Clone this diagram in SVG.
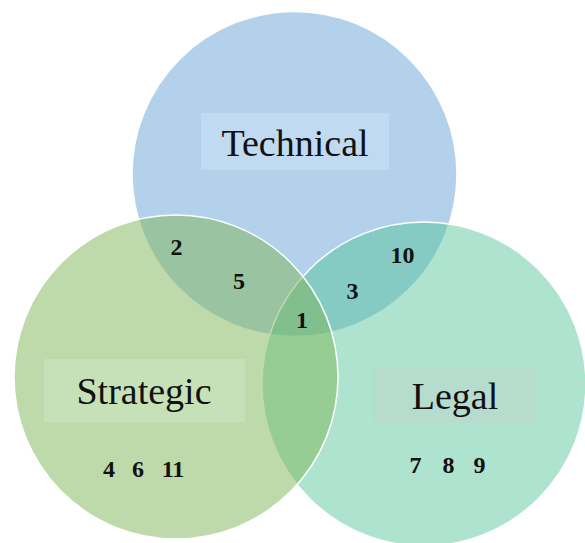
<svg xmlns="http://www.w3.org/2000/svg" width="585" height="543" viewBox="0 0 585 543">
<style>
.c{stroke:#ffffff;stroke-width:1.5}
.lbl{font-family:"Liberation Serif","DejaVu Serif",serif;font-size:38px;fill:#111111;text-anchor:middle}
.num{font-family:"Liberation Serif","DejaVu Serif",serif;font-size:24px;font-weight:bold;fill:#111111;text-anchor:middle}
</style>
<rect width="585" height="543" fill="#ffffff"/>
<g id="technical">
<circle class="c" cx="294.5" cy="174" r="162.5" fill="#b4d1eb"/>
</g>
<g id="legal">
<circle class="c" cx="424" cy="384" r="162" fill="rgb(75,195,148)" fill-opacity="0.45"/>
</g>
<g id="strategic">
<circle class="c" cx="176" cy="377" r="162" fill="rgb(125,181,87)" fill-opacity="0.5"/>
</g>
<g id="technical-label">
<rect x="201" y="113" width="188" height="57" fill="#c0daf2"/>
<text class="lbl" x="295" y="156">Technical</text>
</g>
<g id="strategic-label">
<rect x="44" y="359" width="201" height="63" fill="#c8e2b8" fill-opacity="0.85"/>
<text class="lbl" x="144" y="404">Strategic</text>
</g>
<g id="legal-label">
<rect x="373" y="367" width="163" height="56" fill="#b6dccd"/>
<text class="lbl" x="455" y="409">Legal</text>
</g>
<g id="numbers">
<text class="num" x="176.5" y="255">2</text>
<text class="num" x="239" y="289">5</text>
<text class="num" x="302" y="328">1</text>
<text class="num" x="402.5" y="263">10</text>
<text class="num" x="352.5" y="299">3</text>
<text class="num" x="109" y="477">4</text>
<text class="num" x="138" y="477">6</text>
<text class="num" x="173" y="477">11</text>
<text class="num" x="415.5" y="473">7</text>
<text class="num" x="448.5" y="473">8</text>
<text class="num" x="479.5" y="473">9</text>
</g>
<g id="connectors"/>
</svg>
